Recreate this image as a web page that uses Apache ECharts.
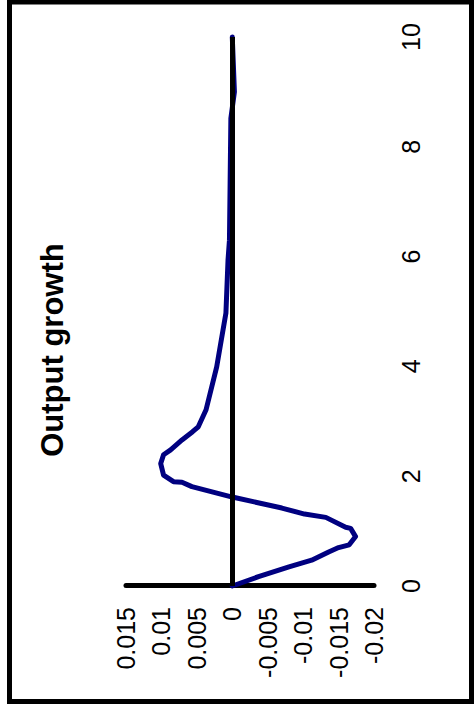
<!DOCTYPE html>
<html>
<head>
<meta charset="utf-8">
<script src="https://cdn.jsdelivr.net/npm/echarts@6/dist/echarts.min.js"></script>
<style>
  html, body { margin: 0; padding: 0; background: #fff; width: 474px; height: 708px; overflow: hidden; }
  #chart {
    position: absolute; left: 0; top: 0;
    width: 708px; height: 474px;
    transform-origin: 0 0;
    transform: translateY(708px) rotate(-90deg);
  }
</style>
</head>
<body>
<div id="chart"></div>
<script>
// Data (time, output growth)
const titleText = 'Output growth';
const times  = [0, 0.17, 0.35, 0.47, 0.62, 0.70, 0.75, 0.90, 1.05, 1.07, 1.25, 1.31, 1.42, 1.62, 1.81, 1.89, 1.90, 2.02, 2.23, 2.39, 2.48, 2.66, 2.81, 2.90, 3.21, 3.99, 4.97, 5.94, 6.30, 8.52, 9.00, 10.0];
const values = [0, -0.0037, -0.0080, -0.0112, -0.0136, -0.0150, -0.0165, -0.0174, -0.0167, -0.0160, -0.0132, -0.0102, -0.0070, 0, 0.0057, 0.0071, 0.0083, 0.0097, 0.0101, 0.0097, 0.0087, 0.0071, 0.0056, 0.0048, 0.0037, 0.0022, 0.0009, 0.0006, 0.0004, 0.0002, -0.0003, 0.0000];
const xTicks = { min: 0, max: 10, interval: 2 };
const yTicks = { min: -0.02, max: 0.015, interval: 0.005 };

const seriesData = times.map((t, i) => [t, values[i]]);
const font = '"Liberation Sans", Arial, sans-serif';

const chart = echarts.init(document.getElementById('chart'), null, { renderer: 'svg', width: 708, height: 474 });
chart.setOption({
  animation: false,
  backgroundColor: '#ffffff',
  grid: { left: 122, top: 126, width: 549, height: 248, containLabel: false },
  xAxis: {
    type: 'value', min: xTicks.min, max: xTicks.max, interval: xTicks.interval,
    axisLine: { show: false }, axisTick: { show: false }, splitLine: { show: false },
    axisLabel: { color: '#000', fontSize: 25, fontFamily: font, margin: 24 }
  },
  yAxis: {
    type: 'value', min: yTicks.min, max: yTicks.max, interval: yTicks.interval,
    axisLine: { show: true, lineStyle: { color: '#000', width: 5 } },
    axisTick: { show: false }, splitLine: { show: false },
    axisLabel: { color: '#000', fontSize: 25, fontFamily: font, margin: 21 }
  },
  graphic: [
    { type: 'rect', silent: true, shape: { x: 6.5, y: 9.5, width: 699.5, height: 462 },
      style: { fill: 'none', stroke: '#000', lineWidth: 5 } },
    { type: 'text', silent: true, x: 358, y: 52,
      style: { text: titleText, fill: '#000', font: 'bold 31px ' + font, textAlign: 'center', textVerticalAlign: 'middle' } }
  ],
  series: [
    {
      type: 'line', z: 1, data: seriesData, symbol: 'none', silent: true,
      lineStyle: { opacity: 0 },
      markLine: {
        silent: true, symbol: 'none', animation: false,
        label: { show: false },
        lineStyle: { color: '#000', width: 5, type: 'solid' },
        data: [{ yAxis: 0 }]
      }
    },
    {
      type: 'line', z: 3, data: seriesData, symbol: 'none', smooth: false,
      lineStyle: { color: '#000080', width: 5, join: 'round', cap: 'round' }
    }
  ]
});
</script>
</body>
</html>
